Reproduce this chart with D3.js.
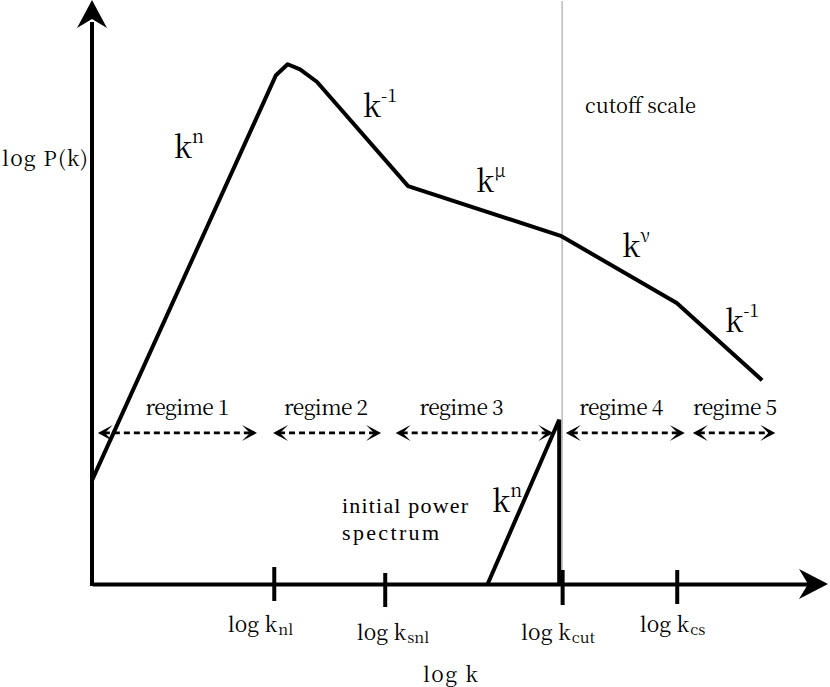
<!DOCTYPE html>
<html>
<head>
<meta charset="utf-8">
<script src="https://cdn.jsdelivr.net/npm/d3@7"></script>
<style>
  html, body { margin: 0; padding: 0; background: #fff; }
  svg { display: block; }
</style>
</head>
<body>
<script>
// ---- data (chart units: log k on x, log P(k) on y) ----
const curveK = [0, 2.52, 2.68, 2.85, 3.08, 4.33, 6.42, 8.01, 9.18];
const curveP = [1.42, 6.97, 7.12, 7.05, 6.88, 5.45, 4.77, 3.85, 2.79];
const initK = [5.42, 6.40, 6.40];
const initP = [0, 2.25, 0];
const cutoffK = 6.44;
const tickK = [2.49, 4.01, 6.44, 8.01];
const tickSubs = ["nl", "snl", "cut", "cs"];
const regimeNames = ["regime 1", "regime 2", "regime 3", "regime 4", "regime 5"];
const regimeFrom = [0.08, 2.48, 4.16, 6.49, 8.23];
const regimeTo = [2.26, 3.96, 6.32, 8.12, 9.36];
const regimeLevel = 2.07;
const slopeSup = ["n", "-1", "\u03bc", "\u03bd", "-1", "n"];
const slopeK = [1.12, 3.71, 5.26, 7.26, 8.67, 5.48];
const slopeP = [5.84, 6.40, 5.37, 4.48, 3.45, 0.99];

const FONT = "'Noto Serif CJK JP', 'Liberation Serif', serif";
const FONT2 = "'Liberation Serif', serif";
const W = 830, H = 687;
const svg = d3.select("body").append("svg").attr("width", W).attr("height", H);

const x = d3.scaleLinear().domain([0, 10]).range([92, 822]);
const y = d3.scaleLinear().domain([0, 8]).range([584, 0]);

const txt = (sel, f = FONT) => sel.append("text").attr("font-family", f).attr("fill", "#000");

// cutoff dotted line
svg.append("line")
  .attr("x1", x(cutoffK)).attr("x2", x(cutoffK))
  .attr("y1", y(7.98)).attr("y2", y(0))
  .attr("stroke", "#333").attr("stroke-width", 1)
  .attr("stroke-dasharray", "1,1");

// x axis
const xAxis = d3.axisBottom(x).tickValues(tickK).tickFormat("").tickSizeInner(17).tickSizeOuter(0);
const gx = svg.append("g").attr("transform", `translate(0,${y(0)})`).call(xAxis);
gx.select(".domain").attr("stroke", "#000").attr("stroke-width", 4);
gx.selectAll(".tick line").attr("stroke", "#000").attr("stroke-width", 4)
  .attr("y1", (d, i) => [-17, -11, -14, -14][i])
  .attr("y2", (d, i) => [17, 23, 21, 20][i]);

// y axis
const yAxis = d3.axisLeft(y).tickValues([]).tickSizeOuter(0);
const gy = svg.append("g").attr("transform", `translate(${x(0)},0)`).call(yAxis);
gy.select(".domain").attr("stroke", "#000").attr("stroke-width", 4)
  .attr("d", `M0,${y(0) + 2}V${y(7.7)}`);

// axis arrowheads
const x0 = x(0), y0 = y(0);
svg.append("path")
  .attr("d", `M${x0},${y(8)} L${x0 - 15},${y(8) + 28} L${x0},${y(8) + 19} L${x0 + 15},${y(8) + 28} Z`)
  .attr("fill", "#000");
const xt = 828;
svg.append("path")
  .attr("d", `M${xt},${y0} L${xt - 29},${y0 - 15} L${xt - 20},${y0} L${xt - 29},${y0 + 15} Z`)
  .attr("fill", "#000");

// main curve
const line = d3.line().x(d => x(d[0])).y(d => y(d[1]));
svg.append("path")
  .datum(curveK.map((k, i) => [k, curveP[i]]))
  .attr("d", line)
  .attr("fill", "none").attr("stroke", "#000").attr("stroke-width", 4)
  .attr("stroke-linejoin", "round");

// initial spectrum
svg.append("path")
  .datum(initK.map((k, i) => [k, initP[i]]))
  .attr("d", line)
  .attr("fill", "none").attr("stroke", "#000").attr("stroke-width", 4)
  .attr("stroke-linejoin", "miter");

// regime arrows
const ry = y(regimeLevel);
const head = (tx, dir) => {
  const L = 15, hw = 8, n = 7;
  return `M${tx},${ry} L${tx - dir * L},${ry - hw} L${tx - dir * n},${ry} L${tx - dir * L},${ry + hw} Z`;
};
const labelDx = [10, -1, -13, -4, 1];
regimeNames.forEach((name, i) => {
  const a = x(regimeFrom[i]), b = x(regimeTo[i]);
  svg.append("line")
    .attr("x1", a + 6).attr("x2", b - 6).attr("y1", ry).attr("y2", ry)
    .attr("stroke", "#000").attr("stroke-width", 2.6)
    .attr("stroke-dasharray", "6,4");
  svg.append("path").attr("d", head(a, -1)).attr("fill", "#000");
  svg.append("path").attr("d", head(b, 1)).attr("fill", "#000");
  txt(svg)
    .attr("x", (a + b) / 2 + labelDx[i] - 42).attr("y", ry - 18)
    .attr("font-size", 21).attr("textLength", 84).attr("lengthAdjust", "spacing")
    .text(name);
});

// slope labels
slopeSup.forEach((s, i) => {
  const t = txt(svg)
    .attr("x", x(slopeK[i])).attr("y", y(slopeP[i]))
    .attr("font-size", 30);
  t.append("tspan").text("k");
  t.append("tspan").attr("font-size", 18).attr("dy", -15).attr("dx", 0).text(s);
});

// tick labels
const tdx = [-46, -28, -41, -37];
const tdy = [632, 640, 640, 632];
tickK.forEach((k, i) => {
  const t = txt(svg)
    .attr("x", x(k) + tdx[i]).attr("y", tdy[i])
    .attr("font-size", 21);
  t.append("tspan").text("log k");
  t.append("tspan").attr("font-size", 15).attr("dy", 3).attr("dx", 1).text(tickSubs[i]);
});

// axis titles and notes
txt(svg).attr("x", 423).attr("y", 682)
  .attr("font-size", 21).attr("textLength", 55).attr("lengthAdjust", "spacing").text("log k");
txt(svg).attr("x", 2).attr("y", 166)
  .attr("font-size", 21).attr("textLength", 86).attr("lengthAdjust", "spacing").text("log P(k)");
txt(svg).attr("x", 585).attr("y", 113)
  .attr("font-size", 20).attr("textLength", 111).attr("lengthAdjust", "spacing").text("cutoff scale");
txt(svg, FONT2).attr("x", 342).attr("y", 513)
  .attr("font-size", 22).attr("textLength", 126).attr("lengthAdjust", "spacing").text("initial power");
txt(svg, FONT2).attr("x", 342).attr("y", 540)
  .attr("font-size", 22).attr("textLength", 97).attr("lengthAdjust", "spacing").text("spectrum");
</script>
</body>
</html>
